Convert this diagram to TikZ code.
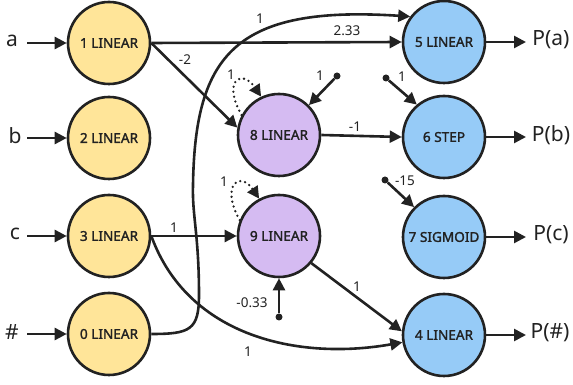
\documentclass[tikz,border=0pt]{standalone}
\usepackage{fontspec}
\setmainfont{Noto Sans}
\newfontfamily\nodefont{Noto Sans}[FakeBold=1.6]
\usetikzlibrary{arrows.meta}
\definecolor{yel}{HTML}{FFE599}
\definecolor{pur}{HTML}{D5BBF2}
\definecolor{blu}{HTML}{96CBF7}
\definecolor{ink}{HTML}{222222}
\begin{document}
\begin{tikzpicture}[x=1pt,y=1pt,
 neuron/.style={circle,draw=ink,line width=2.6pt,minimum size=82pt,inner sep=0pt,font=\fontsize{13.6}{13.6}\nodefont,text=ink},
 inn/.style={neuron,fill=yel},
 hid/.style={neuron,fill=pur},
 outn/.style={neuron,fill=blu},
 edge/.style={draw=ink,line width=2.6pt,-{Triangle[length=12pt,width=12pt]}},
 loopedge/.style={edge,line cap=round,dash pattern=on 0pt off 5pt},
 wlab/.style={font=\fontsize{13.5}{13.5}\selectfont,text=ink,inner sep=1pt},
 iolab/.style={font=\fontsize{21}{21}\selectfont,text=ink,inner sep=0pt},
 biasdot/.style={circle,fill=ink,inner sep=0pt,minimum size=7pt},
]
\useasboundingbox (0,0) rectangle (573,385);
% neurons
\node[inn] (n1) at (109,342) {1 LINEAR};
\node[inn] (n2) at (109,247) {2 LINEAR};
\node[inn] (n3) at (109,149) {3 LINEAR};
\node[inn] (n0) at (109,51) {0 LINEAR};
\node[hid] (n8) at (279,250) {8 LINEAR};
\node[hid] (n9) at (279,149) {9 LINEAR};
\node[outn] (n5) at (444,343) {5 LINEAR};
\node[outn] (n6) at (444,248) {6 STEP};
\node[outn] (n7) at (444,148) {7 SIGMOID};
\node[outn] (n4) at (444,50) {4 LINEAR};
% inputs
\node[iolab] (ia) at (12,344) {a};
\node[iolab] (ib) at (15,249) {b};
\node[iolab] (ic) at (15,151) {c};
\node[iolab] (ih) at (12,53) {\#};
\coordinate (sa) at (27,342);
\coordinate (sb) at (27,247);
\coordinate (sc) at (27,149);
\coordinate (sh) at (27,51);
\draw[edge] (sa) -- (n1.west);
\draw[edge] (sb) -- (n2.west);
\draw[edge] (sc) -- (n3.west);
\draw[edge] (sh) -- (n0.west);
% outputs
\coordinate (ea) at (526,343);
\coordinate (eb) at (526,248);
\coordinate (ec) at (526,148);
\coordinate (eh) at (526,50);
\draw[edge] (n5.east) -- (ea);
\draw[edge] (n6.east) -- (eb);
\draw[edge] (n7.east) -- (ec);
\draw[edge] (n4.east) -- (eh);
\node[iolab] (pa) at (551,345) {P(a)};
\node[iolab] (pb) at (551,250) {P(b)};
\node[iolab] (pc) at (551,150) {P(c)};
\node[iolab] (ph) at (550,52) {P(\#)};
% connections
\draw[edge] (n1.east) -- (n5.west);
\node[wlab] (l15) at (347,354) {2.33};
\draw[edge] (n1.east) -- (n8.170);
\node[wlab] (l18) at (185,325) {-2};
\draw[edge] (n8.east) -- (n6.west);
\node[wlab] (l86) at (355,258) {-1};
\draw[edge] (n3.east) -- (n9.west);
\node[wlab] (l39) at (174,157) {1};
\draw[edge] (n3.east) to[out=-70,in=190] (n4.190);
\node[wlab] (l34) at (248,33) {1};
\draw[edge] (n9.-40) -- (n4.175);
\node[wlab] (l94) at (357,98) {1};
\draw[edge] (n0.east) .. controls (190,51) and (199,55) .. (199,90)
  .. controls (199,150) and (192,170) .. (193,200)
  .. controls (195,330) and (235,380) .. (n5.143);
\node[wlab] (l05) at (260,366) {1};
% self loops
\draw[loopedge] (n8.152) .. controls +(-20,35) and +(-19,28) .. (n8.115);
\node[wlab] (ll8) at (231,310) {1};
\draw[loopedge] (n9.158) .. controls +(-20,35) and +(-19,28) .. (n9.118);
\node[wlab] (ll9) at (224,203) {1};
% biases
\node[biasdot] (b8) at (337,309) {};
\draw[edge] (b8) -- (n8.45);
\node[wlab] (lb8) at (320,309) {1};
\node[biasdot] (b6) at (386,307) {};
\draw[edge] (b6) -- (n6.130);
\node[wlab] (lb6) at (402,308) {1};
\node[biasdot] (b7) at (385,205) {};
\draw[edge] (b7) -- (n7.135);
\node[wlab] (lb7) at (405,204) {-15};
\node[biasdot] (b9) at (279,68) {};
\draw[edge] (b9) -- (n9.south);
\node[wlab] (lb9) at (252,82) {-0.33};
\end{tikzpicture}
\end{document}
